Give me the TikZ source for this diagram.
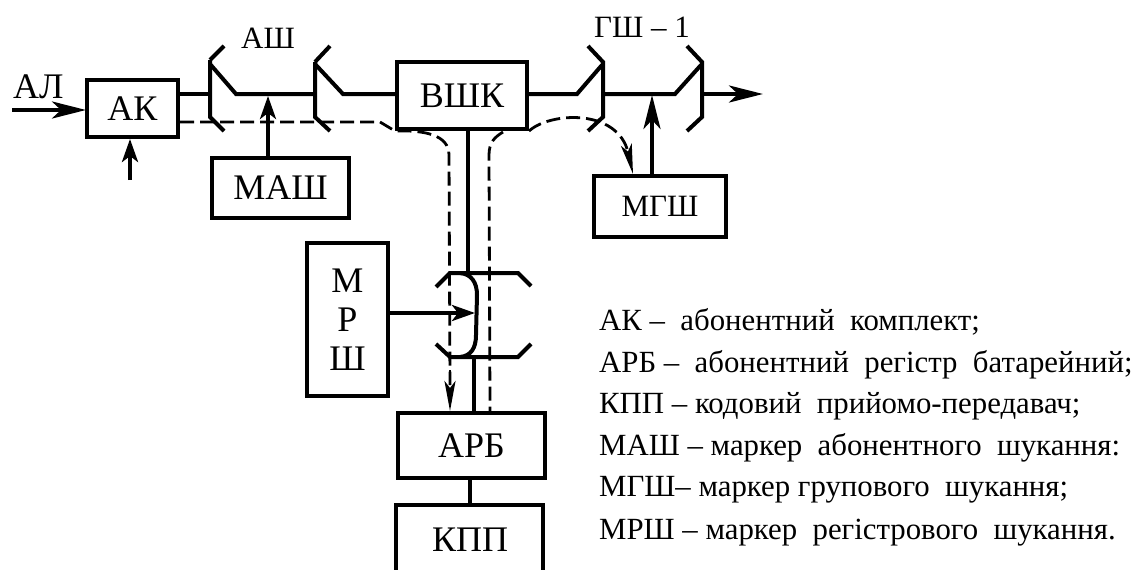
\documentclass[tikz,border=0pt]{standalone}
\usepackage{fontspec}
\setmainfont{Liberation Serif}
\usetikzlibrary{arrows.meta}
\tikzset{
  x=1pt,y=-1pt,
  block/.style={draw=black,line width=4pt,minimum width=#1,inner sep=0pt,anchor=north west},
  wire/.style={line width=4pt},
  thin wire/.style={line width=3.6pt},
  dash wire/.style={line width=2.8pt,dash pattern=on 14pt off 6pt},
  longtip/.style={-{Stealth[length=34pt,width=17pt,inset=9pt]},shorten >=-1pt},
  shorttip/.style={-{Stealth[length=23pt,width=16pt,inset=6pt]}},
  dashtip/.style={-{Stealth[length=30pt,width=11pt,inset=7pt]}},
  big/.style={font=\fontsize{36}{36}\selectfont,inner sep=0pt},
  mid/.style={font=\fontsize{31}{31}\selectfont,inner sep=0pt},
  leg/.style={font=\fontsize{30.8}{30.8}\selectfont,inner sep=0pt,anchor=base west},
}
\begin{document}
\begin{tikzpicture}
\useasboundingbox (0,0) rectangle (1136,570);
% blocks
\node[block=91pt,minimum height=57pt,big] (ak) at (85,78) {АК};
\node[block=137pt,minimum height=60pt,big] (mash) at (210,156) {МАШ};
\node[block=130pt,minimum height=67pt,big] (vshk) at (395,60) {ВШК};
\node[block=132pt,minimum height=61pt,mid] (mgsh) at (592,174) {МГШ};
\node[block=81pt,minimum height=153pt,align=center,big] (mrsh) at (305,241) {М\\[3pt]Р\\[3pt]Ш};
\node[block=147pt,minimum height=65pt,big] (arb) at (396,411) {АРБ};
% KPP box is cut by the lower edge
\coordinate (kppnw) at (396,505);
\coordinate (kppne) at (543,505);
\coordinate (kppsw) at (396,572);
\coordinate (kppse) at (543,572);
\draw[line width=4pt] (kppsw) -- (kppnw) -- (kppne) -- (kppse);
\node[big] (kpp) at (470,540) {КПП};
% labels
\node[big,anchor=base west] (al) at (13,98) {АЛ};
\node[mid,anchor=base] (ash) at (268,48) {АШ};
\node[mid,anchor=base] (gsh) at (642,37) {ГШ – 1};
% free ends
\coordinate (alin) at (12,110);
\coordinate (akup) at (130,180);
\coordinate (s1) at (210,94);
\coordinate (b1) at (236,94);
\coordinate (s2) at (315,94);
\coordinate (b2) at (343,94);
\coordinate (b3) at (577,94);
\coordinate (s3) at (603,94);
\coordinate (b4) at (675,94);
\coordinate (s4) at (702,94);
\coordinate (out) at (762,94);
% inputs and bus
\draw[wire,longtip] (alin) -- (ak.west |- alin);
\draw[wire,shorttip] (akup) -- (ak.south -| akup);
\draw[wire] (ak.east |- s1) -- (s1);
\draw[wire] (210,60) -- (224,46);
\draw[wire] (210,60) -- (210,117) -- (224,131);
\draw[wire] (210,64) -- (b1) -- (s2);
\draw[wire] (315,62) -- (330,46);
\draw[wire] (315,62) -- (315,117) -- (330,131);
\draw[wire] (315,64) -- (b2) -- (vshk.west |- b2);
\draw[wire] (vshk.east |- b3) -- (b3) -- (602,65);
\draw[wire] (588,46) -- (603,62) -- (603,117) -- (588,131);
\draw[wire] (s3) -- (b4) -- (701,65);
\draw[wire] (687,46) -- (702,62) -- (702,117) -- (687,131);
\draw[wire,longtip] (s4) -- (out);
\draw[thin wire,shorttip] (mash.north -| 268,0) -- (268,96);
\draw[thin wire,longtip] (mgsh.north -| 652,0) -- (652,96);
% dashed
\draw[dash wire] (ak.east |- 0,122) -- (380,122) -- (vshk.south west)
  .. controls (425,130) and (449,135) .. (449,155) -- (450,385);
\draw[dash wire,dashtip] (450,370) -- (arb.north -| 450,0);
\draw[dash wire] (503,132) .. controls (495,137) and (489,142) .. (489,155) -- (arb.north -| 490,0);
\draw[dash wire,dashtip] (vshk.south east)
  .. controls (550,112) and (618,108) .. (mgsh.north -| 633,0);
% middle
\draw[thin wire] (vshk.south -| 468,0) -- (468,273);
% switch
\draw[wire] (436,287) -- (450,273) -- (518,273) -- (531,286);
\draw[wire] (436,344) -- (450,357) -- (518,357) -- (531,344);
\draw[wire] (460,273) .. controls (471,274) and (477,282) .. (477,295) -- (476,335) .. controls (476,348) and (471,356) .. (460,357);
\draw[wire,shorttip] (mrsh.east |- 0,313) -- (475,313);
\draw[thin wire] (474,357) -- (arb.north -| 474,0);
\draw[thin wire] (arb.south -| kpp.north) -- (kpp.north |- kppnw);
% legend
\node[leg] (l1) at (599,330) {АК – \ абонентний\ \ комплект;};
\node[leg] (l2) at (599,372) {АРБ – \ абонентний\ \ регістр\ \ батарейний;};
\node[leg] (l3) at (599,413) {КПП – кодовий\ \ прийомо-передавач;};
\node[leg] (l4) at (599,455) {МАШ – маркер\ \ абонентного\ \ шукання:};
\node[leg] (l5) at (599,496) {МГШ– маркер групового\ \ шукання;};
\node[leg] (l6) at (599,539) {МРШ – маркер\ \ регістрового\ \ шукання.};
\end{tikzpicture}
\end{document}
